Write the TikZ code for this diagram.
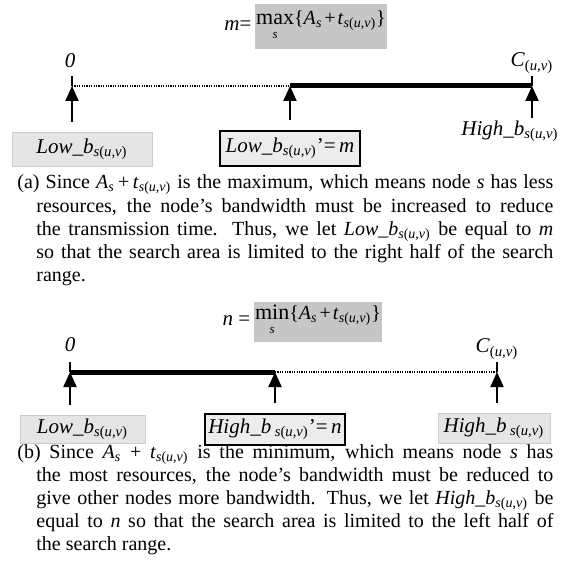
\documentclass[tikz,border=0pt]{standalone}
\usepackage{fontspec}
\setmainfont{Liberation Serif}
\usetikzlibrary{arrows.meta,calc}

% subscripts used in the labels and captions
\newcommand\subsuv{\textsubscript{\textit{s}(\textit{u},\textit{v})}}
\newcommand\subs{\textsubscript{\textit{s}}}
\newcommand\subuv{\textsubscript{(\textit{u},\textit{v})}}
% operator with a small index set below it
\newcommand\opunder[2]{\begin{tabular}[t]{@{}c@{}}{\fontsize{11}{12}\selectfont#1}\\[-5pt]{\fontsize{6.5}{7}\selectfont\textit{#2}}\end{tabular}}

\tikzset{
  lbl/.style={font=\fontsize{10.5}{12}\selectfont, inner sep=0pt},
  softbox/.style={lbl, fill=gray!20, draw=gray!40, line width=0.4pt},
  keybox/.style={lbl, fill=gray!15, draw=black, line width=1pt},
  opbox/.style={font=\fontsize{10}{12}\selectfont, fill=gray!45, inner sep=0.5pt},
  dotline/.style={line width=0.6pt, dash pattern=on 0.6pt off 0.6pt},
  boldline/.style={line width=2.5pt},
  endtick/.style={line width=1pt},
  uparrow/.style={line width=1pt, -{Triangle[length=7.5pt,width=6.5pt]}},
  caption/.style={font=\fontsize{10}{11.55}\selectfont, inner sep=0pt,
    text width=268pt, align=justify},
}

\begin{document}
\begin{tikzpicture}[x=0.5pt, y=-0.5pt]
\useasboundingbox (0,0) rectangle (569,581);

% ---------- (a) raising the lower bound ----------
\node[opbox, minimum width=57.5pt, minimum height=22.5pt] (maxA) at (321,27)
  {\opunder{max}{s}\{\textit{A}\subs\kern1pt+\kern1pt\textit{t}\subsuv\}};
\node[lbl, anchor=base east] (mA) at ($(maxA.west)+(-3,4)$) {\textit{m}=};

\node[lbl] (zeroA) at (70,61) {\textit{0}};
\node[lbl] (capA) at (532,63) {\textit{C}\subuv};

\coordinate (a0) at (72,86);
\coordinate (am) at (290,86);
\coordinate (a1) at (532,86);
\draw[dotline] (a0) -- (am);
\draw[boldline] (am) -- (a1);
\draw[endtick] (a0) -- ++(0,-10);
\draw[endtick] (a1) -- ++(0,-10);

\node[softbox, minimum width=70pt, minimum height=17pt] (lowA) at (82,149)
  {\textit{Low\_b}\subsuv};
\node[keybox, minimum width=70pt, minimum height=17.5pt] (lowpA) at (290,148.5)
  {\textit{Low\_b}\subsuv’=\,\textit{m}};
\node[lbl] (highA) at (510,131) {\textit{High\_b}\subsuv};

\draw[uparrow] ($(lowA.north -| a0)+(0,-10)$) -- (a0);
\draw[uparrow] ($(lowpA.north -| am)+(0,-10)$) -- (am);
\draw[uparrow] ($(highA.north -| a1)+(0,-2)$) -- (a1);

\node[caption, anchor=base west] (capa) at (17,189)
  {\leftskip=9.5pt\noindent\hspace*{-9.5pt}%
   (a) Since \textit{A}\subs\,+\,\textit{t}\subsuv{} is the maximum, which means node \textit{s} has less\linebreak
   resources, the node’s bandwidth must be increased to reduce\linebreak
   the transmission time. Thus, we let \textit{Low\_b}\subsuv{} be equal to \textit{m}\linebreak
   so that the search area is limited to the right half of the search\linebreak
   range.\par};

% ---------- (b) lowering the upper bound ----------
\node[opbox, minimum width=52pt, minimum height=17.5pt] (minB) at (318,322)
  {\opunder{min}{s}\{\textit{A}\subs\kern1pt+\kern1pt\textit{t}\subsuv\}};
\node[lbl, anchor=base east] (nB) at ($(minB.west)+(-3,4)$) {\textit{n} =};

\node[lbl] (zeroB) at (70,345) {\textit{0}};
\node[lbl] (capB) at (497,349) {\textit{C}\subuv};

\coordinate (b0) at (70,372);
\coordinate (bm) at (275,372);
\coordinate (b1) at (497,372);
\draw[boldline] (b0) -- (bm);
\draw[dotline] (bm) -- (b1);
\draw[endtick] (b0) -- ++(0,-10);
\draw[endtick] (b1) -- ++(0,-10);

\node[softbox, minimum width=62.5pt, minimum height=14pt] (lowB) at (82.5,429)
  {\textit{Low\_b}\subsuv};
\node[keybox, minimum width=70pt, minimum height=15.5pt] (highpB) at (275,429.5)
  {\textit{High\_b}\,\subsuv’=\,\textit{n}};
\node[softbox, minimum width=56pt, minimum height=15pt] (highB) at (494,428)
  {\textit{High\_b}\,\subsuv};

\draw[uparrow] ($(lowB.north -| b0)+(0,-10)$) -- (b0);
\draw[uparrow] ($(highpB.north -| bm)+(0,-10)$) -- (bm);
\draw[uparrow] ($(highB.north -| b1)+(0,-10)$) -- (b1);

\node[caption, anchor=base west] (capb) at (17,458)
  {\leftskip=9.5pt\noindent\hspace*{-9.5pt}%
   (b) Since \textit{A}\subs{} + \textit{t}\subsuv{} is the minimum, which means node \textit{s} has\linebreak
   the most resources, the node’s bandwidth must be reduced to\linebreak
   give other nodes more bandwidth. Thus, we let \textit{High\_b}\subsuv{} be\linebreak
   equal to \textit{n} so that the search area is limited to the left half of\linebreak
   the search range.\par};
\end{tikzpicture}
\end{document}
